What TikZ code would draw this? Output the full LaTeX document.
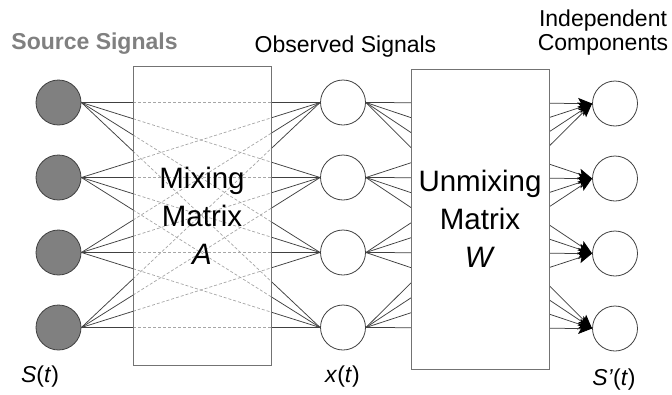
\documentclass[tikz,border=0pt]{standalone}
\usepackage{fontspec}
\setmainfont{Liberation Sans}
\usetikzlibrary{arrows.meta,backgrounds}
\definecolor{srcgray}{gray}{0.5}
\begin{document}
\begin{tikzpicture}[x=1pt,y=-1pt,>={Stealth[length=14pt,width=11pt,inset=3pt,color=black]},
  sig/.style={circle,draw=black!75,line width=0.8pt,minimum size=45pt,inner sep=0pt},
  src/.style={sig,fill=srcgray},
  obs/.style={sig,fill=white},
  matbox/.style={draw=black!55,line width=0.9pt,minimum width=138pt,minimum height=299pt,
    outer sep=0pt,align=center,font=\fontsize{29.5}{38}\selectfont},
  wire/.style={draw=black!75,line width=0.75pt},
  hidden/.style={draw=black!35,line width=0.7pt,dash pattern=on 3pt off 2pt},
  lbl/.style={anchor=base,inner sep=0pt,font=\fontsize{23}{23.5}\selectfont}]
\useasboundingbox (0,0) rectangle (672,394);

\node[matbox] (A) at (202,215.5) {Mixing\\Matrix\\\textit{A}};
\node[matbox,fill=white,minimum height=300pt] (W) at (480,219) {Unmixing\\Matrix\\\textit{W}};

\foreach \i in {1,...,4}
{
    \node[src] (s\i) at (58.5,{102.5+75*(\i-1)}) {};
    \node[obs] (x\i) at (343,{102.5+75*(\i-1)}) {};
    \node[obs] (y\i) at (615,{103.5+75*(\i-1)}) {};
}

\begin{scope}[on background layer]
\foreach \i in {1,...,4}
\foreach \j in {1,...,4}
{
    \coordinate (al) at (intersection of s\i.east--x\j.west and A.north west--A.south west);
    \coordinate (ar) at (intersection of s\i.east--x\j.west and A.north east--A.south east);
    \coordinate (wl) at (intersection of x\i.east--y\j.west and W.north west--W.south west);
    \coordinate (wr) at (intersection of x\i.east--y\j.west and W.north east--W.south east);
    \draw[wire] (s\i.east)--(al);
    \draw[hidden] (al)--(ar);
    \draw[wire] (ar)--(x\j.west);
    \draw[wire] (x\i.east)--(wl);
    \draw[wire,->] (wr)--(y\j.west);
}
\end{scope}

\node[lbl,font=\bfseries\fontsize{23}{23.5}\selectfont,text=srcgray] (hsrc) at (94.5,49) {Source Signals};
\node[lbl] (hobs) at (345.5,52) {Observed Signals};
\node[lbl,anchor=center,align=center] (hica) at (603,32.8) {Independent\\Components};
\node[lbl] (ls) at (40,382) {\textit{S}(\textit{t})};
\node[lbl] (lx) at (342.5,382) {\textit{x}(\textit{t})};
\node[lbl] (ly) at (614,385) {\textit{S'}(\textit{t})};
\end{tikzpicture}
\end{document}
